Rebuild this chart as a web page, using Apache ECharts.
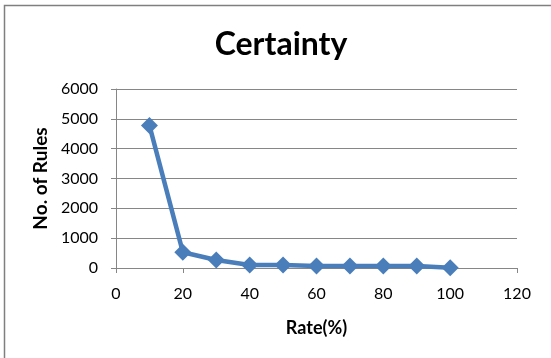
<!DOCTYPE html>
<html>
<head>
<meta charset="utf-8">
<script src="https://cdn.jsdelivr.net/npm/echarts@6/dist/echarts.min.js"></script>
<style>
html,body{margin:0;padding:0;background:#fff;}
#chart{width:551px;height:358px;}
</style>
</head>
<body>
<div id="chart"></div>
<script>
// Certainty threshold (%) versus number of rules generated
const rates = [10, 20, 30, 40, 50, 60, 70, 80, 90, 100];
const ruleCounts = [4780, 530, 270, 100, 100, 65, 65, 65, 65, 5];
const titleText = 'Certainty';
const xName = 'Rate(%)';
const yName = 'No. of Rules';

const font = 'Lato, "Open Sans", sans-serif';
const chart = echarts.init(document.getElementById('chart'), null, {renderer: 'canvas'});
chart.setOption({
  backgroundColor: '#fff',
  animation: false,
  graphic: [{
    type: 'rect',
    shape: {x: 4.5, y: 5.5, width: 560, height: 360},
    style: {fill: 'none', stroke: '#7f7f7f', lineWidth: 1.5},
    silent: true
  }],
  title: {
    text: titleText,
    left: 276,
    top: 24,
    textAlign: 'center',
    textStyle: {fontFamily: font, fontSize: 32, fontWeight: 'bold', color: '#000'}
  },
  grid: {left: 116, right: 34, top: 89, bottom: 90, containLabel: false},
  xAxis: {
    type: 'value',
    min: 0, max: 120, interval: 20,
    name: xName,
    nameLocation: 'middle',
    nameGap: 51,
    nameTextStyle: {fontFamily: font, fontSize: 18, fontWeight: 'bold', color: '#000'},
    axisLine: {show: true, onZero: false, lineStyle: {color: '#868686', width: 1}},
    axisTick: {show: true, inside: false, length: 5, lineStyle: {color: '#868686'}},
    axisLabel: {fontFamily: font, fontSize: 16, color: '#000', margin: 18},
    splitLine: {show: false}
  },
  yAxis: {
    type: 'value',
    min: 0, max: 6000, interval: 1000,
    name: yName,
    nameLocation: 'middle',
    nameGap: 66,
    nameTextStyle: {fontFamily: font, fontSize: 19, fontWeight: 'bold', color: '#000'},
    axisLine: {show: true, lineStyle: {color: '#868686', width: 1}},
    axisTick: {show: true, length: 5, lineStyle: {color: '#868686'}},
    axisLabel: {fontFamily: font, fontSize: 16, color: '#000', margin: 18, formatter: v => String(v)},
    splitLine: {show: true, lineStyle: {color: '#868686', width: 1}}
  },
  series: [{
    type: 'line',
    data: rates.map((r, i) => [r, ruleCounts[i]]),
    symbol: 'diamond',
    symbolSize: 17,
    lineStyle: {color: '#4a7ebb', width: 4.5},
    itemStyle: {color: '#4a7ebb'},
    clip: false
  }]
});
</script>
</body>
</html>
